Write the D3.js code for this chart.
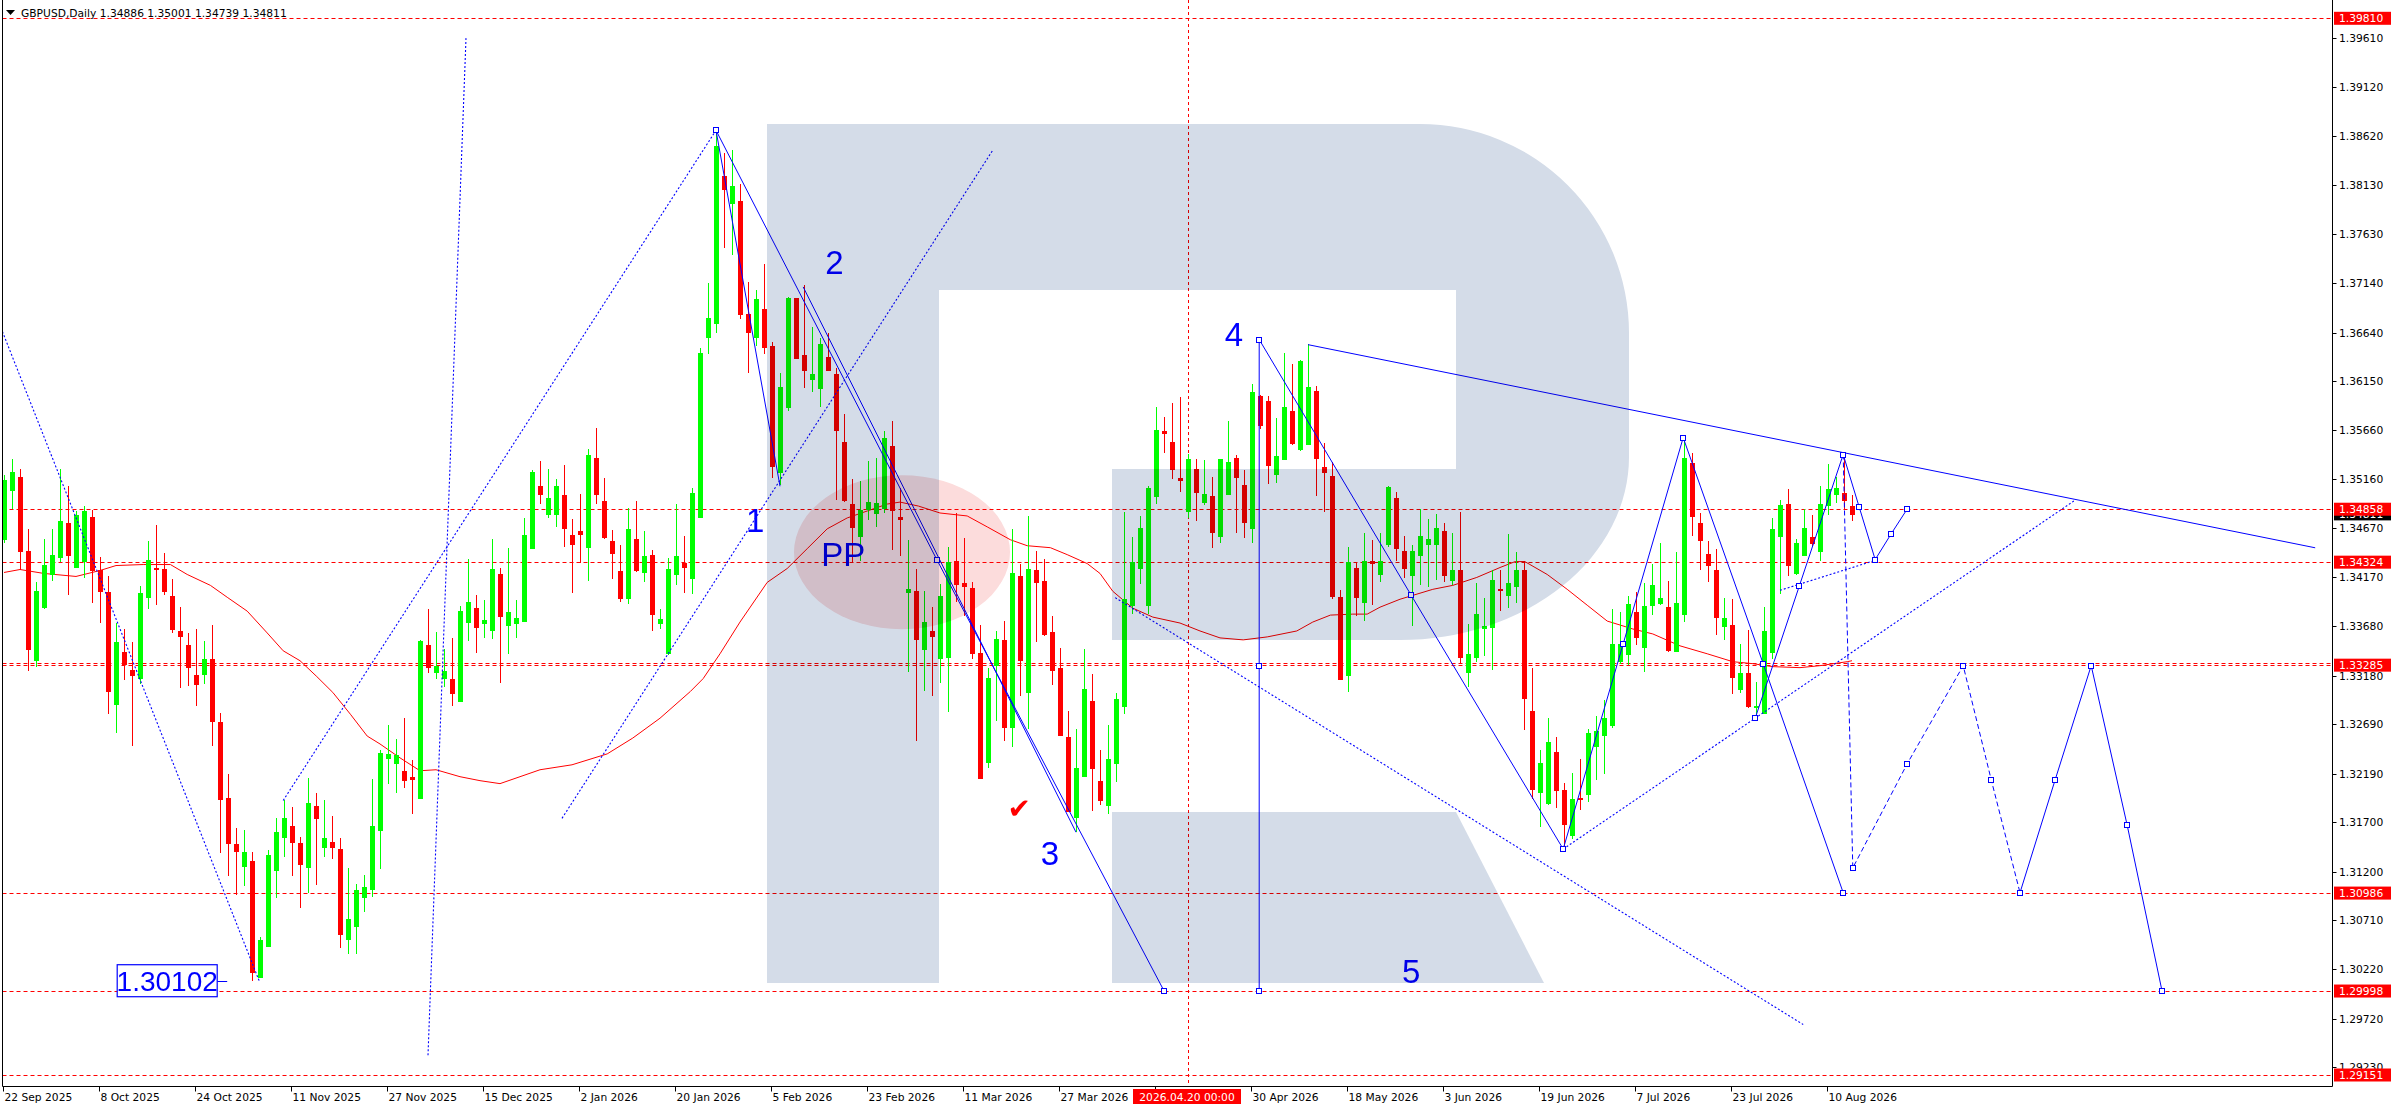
<!DOCTYPE html>
<html><head><meta charset="utf-8">
<script src="https://cdn.jsdelivr.net/npm/d3@7"></script>
<style>html,body{margin:0;padding:0;background:#fff;overflow:hidden}svg{display:block}</style>
</head><body>
<svg id="chart" width="2396" height="1110"></svg>
<script>
// ---------------- DATA ----------------
const symbolTitle = "GBPUSD,Daily  1.34886 1.35001 1.34739 1.34811";
const dateLabels = ["22 Sep 2025","8 Oct 2025","24 Oct 2025","11 Nov 2025","27 Nov 2025","15 Dec 2025","2 Jan 2026","20 Jan 2026","5 Feb 2026","23 Feb 2026","11 Mar 2026","27 Mar 2026","30 Apr 2026","18 May 2026","3 Jun 2026","19 Jun 2026","7 Jul 2026","23 Jul 2026","10 Aug 2026"];
const dateLabelBar = [0,12,24,36,48,60,72,84,96,108,120,132,156,168,180,192,204,216,228];
const hiddenTickBar = [144];
const cursorLabel = "2026.04.20 00:00";
const cursorBar = 148;
const priceTicks = [1.39610,1.39120,1.38620,1.38130,1.37630,1.37140,1.36640,1.36150,1.35660,1.35160,1.34670,1.34170,1.33680,1.33180,1.32690,1.32190,1.31700,1.31200,1.30710,1.30220,1.29720,1.29230];
const levelPrices = [1.39810,1.34858,1.34324,1.33285,1.30986,1.29998,1.29151];
const extraLevel = [1.33310];
const bidPrice = 1.34811;
const priceMin = 1.29151, priceMax = 1.39810;

const opens = [1.3456,1.3505,1.3518,1.3444,1.3334,1.3387,1.3420,1.3438,1.3472,1.3428,1.3434,1.3478,1.3424,1.3402,1.3289,1.3342,1.3324,1.3316,1.3397,1.3427,
1.3426,1.3398,1.3363,1.3349,1.3319,1.3320,1.3335,1.3271,1.3195,1.3148,1.3126,1.3131,1.3014,1.3045,1.3122,1.3155,1.3166,1.3149,1.3125,1.3186,
1.3145,1.3150,1.3143,1.3052,1.3065,1.3095,1.3103,1.3162,1.3235,1.3230,1.3222,1.3216,1.3195,1.3349,1.3322,1.3316,1.3315,1.3292,1.3372,1.3386,
1.3371,1.3364,1.3420,1.3369,1.3371,1.3373,1.3447,1.3509,1.3481,1.3481,1.3500,1.3460,1.3464,1.3448,1.3537,1.3494,1.3454,1.3423,1.3396,1.3456,
1.3422,1.3440,1.3371,1.3341,1.3420,1.3432,1.3416,1.3478,1.3660,1.3674,1.3822,1.3795,1.3797,1.3683,1.3660,1.3688,1.3650,1.3523,1.3589,1.3699,
1.3641,1.3617,1.3608,1.3639,1.3622,1.3554,1.3491,1.3459,1.3486,1.3482,1.3487,1.3550,1.3478,1.3402,1.3403,1.3345,1.3363,1.3336,1.3337,1.3434,
1.3411,1.3406,1.3341,1.3231,1.3329,1.3354,1.3266,1.3418,1.3301,1.3424,1.3413,1.3362,1.3326,1.3256,1.3175,1.3217,1.3292,1.3212,1.3187,1.3230,
1.3287,1.3389,1.3427,1.3389,1.3499,1.3565,1.3554,1.3517,1.3484,1.3526,1.3493,1.3499,1.3459,1.3501,1.3537,1.3510,1.3467,1.3600,1.3595,1.3521,
1.3536,1.3585,1.3547,1.3552,1.3605,1.3528,1.3519,1.3397,1.3319,1.3427,1.3392,1.3434,1.3420,1.3451,1.3497,1.3444,1.3419,1.3440,1.3451,1.3451,
1.3464,1.3414,1.3425,1.3322,1.3337,1.3366,1.3367,1.3405,1.3399,1.3408,1.3425,1.3282,1.3201,1.3189,1.3241,1.3203,1.3157,1.3195,1.3199,1.3247,
1.3258,1.3268,1.3333,1.3340,1.3382,1.3347,1.3389,1.3391,1.3387,1.3343,1.3380,1.3532,1.3472,1.3441,1.3424,1.3368,1.3369,1.3304,1.3321,1.3286,
1.3280,1.3342,1.3459,1.3491,1.3421,1.3440,1.3458,1.3444,1.3490,1.3501,1.3502,1.34886];
const highs = [1.3520,1.3536,1.3526,1.3466,1.3412,1.3456,1.3466,1.3526,1.3509,1.3484,1.3489,1.3485,1.3438,1.3418,1.3371,1.3365,1.3352,1.3408,1.3454,1.3470,
1.3442,1.3415,1.3387,1.3361,1.3365,1.3353,1.3369,1.3280,1.3219,1.3164,1.3162,1.3140,1.3054,1.3142,1.3174,1.3192,1.3185,1.3155,1.3215,1.3200,
1.3192,1.3176,1.3154,1.3124,1.3108,1.3117,1.3214,1.3243,1.3268,1.3254,1.3275,1.3233,1.3354,1.3385,1.3362,1.3345,1.3356,1.3388,1.3436,1.3399,
1.3394,1.3456,1.3427,1.3447,1.3394,1.3477,1.3525,1.3534,1.3526,1.3516,1.3530,1.3476,1.3501,1.3547,1.3568,1.3517,1.3465,1.3450,1.3487,1.3494,
1.3464,1.3445,1.3385,1.3437,1.3491,1.3459,1.3507,1.3648,1.3714,1.3868,1.3845,1.3848,1.3814,1.3715,1.3707,1.3733,1.3654,1.3623,1.3700,1.3699,
1.3712,1.3670,1.3659,1.3664,1.3628,1.3582,1.3516,1.3514,1.3534,1.3537,1.3565,1.3575,1.3507,1.3455,1.3426,1.3403,1.3387,1.3410,1.3448,1.3482,
1.3457,1.3412,1.3369,1.3326,1.3363,1.3373,1.3466,1.3431,1.3479,1.3444,1.3436,1.3378,1.3346,1.3282,1.3264,1.3345,1.3320,1.3243,1.3268,1.3300,
1.3483,1.3458,1.3479,1.3509,1.3589,1.3579,1.3593,1.3599,1.3542,1.3536,1.3535,1.3518,1.3536,1.3575,1.3540,1.3525,1.3612,1.3601,1.3600,1.3578,
1.3643,1.3632,1.3636,1.3652,1.3610,1.3553,1.3533,1.3404,1.3448,1.3433,1.3462,1.3455,1.3462,1.3509,1.3503,1.3459,1.3450,1.3486,1.3476,1.3481,
1.3472,1.3462,1.3483,1.3370,1.3411,1.3396,1.3424,1.3425,1.3461,1.3443,1.3434,1.3326,1.3243,1.3275,1.3256,1.3210,1.3220,1.3234,1.3264,1.3277,
1.3293,1.3385,1.3382,1.3398,1.3402,1.3411,1.3431,1.3452,1.3413,1.3443,1.3558,1.3543,1.3482,1.3454,1.3446,1.3396,1.3395,1.3350,1.3364,1.3312,
1.3387,1.3477,1.3495,1.3506,1.3456,1.3486,1.3480,1.3509,1.3531,1.3518,1.3542,1.35001];
const lows = [1.3452,1.3486,1.3425,1.3323,1.3327,1.3385,1.3413,1.3433,1.3399,1.3428,1.3416,1.3391,1.3371,1.3279,1.3260,1.3314,1.3247,1.3309,1.3385,1.3389,
1.3399,1.3361,1.3305,1.3307,1.3287,1.3310,1.3247,1.3139,1.3116,1.3097,1.3106,1.3010,1.3013,1.3045,1.3094,1.3135,1.3116,1.3084,1.3099,1.3107,
1.3135,1.3133,1.3043,1.3037,1.3037,1.3080,1.3095,1.3123,1.3209,1.3200,1.3205,1.3178,1.3194,1.3321,1.3315,1.3306,1.3287,1.3291,1.3353,1.3341,
1.3356,1.3355,1.3311,1.3340,1.3356,1.3372,1.3446,1.3491,1.3477,1.3468,1.3448,1.3401,1.3432,1.3413,1.3491,1.3456,1.3415,1.3392,1.3390,1.3422,
1.3412,1.3363,1.3365,1.3339,1.3409,1.3401,1.3400,1.3477,1.3642,1.3664,1.3749,1.3742,1.3678,1.3623,1.3650,1.3642,1.3517,1.3510,1.3585,1.3637,
1.3608,1.3604,1.3589,1.3625,1.3495,1.3493,1.3432,1.3434,1.3475,1.3468,1.3482,1.3445,1.3439,1.3322,1.3252,1.3302,1.3297,1.3311,1.3281,1.3392,
1.3378,1.3335,1.3214,1.3225,1.3272,1.3252,1.3246,1.3297,1.3264,1.3352,1.3358,1.3308,1.3257,1.3180,1.3160,1.3216,1.3181,1.3187,1.3178,1.3211,
1.3279,1.3380,1.3410,1.3380,1.3491,1.3543,1.3516,1.3503,1.3477,1.3474,1.3490,1.3447,1.3452,1.3500,1.3462,1.3457,1.3452,1.3567,1.3511,1.3512,
1.3535,1.3551,1.3545,1.3551,1.3499,1.3483,1.3395,1.3314,1.3301,1.3378,1.3373,1.3389,1.3412,1.3448,1.3434,1.3416,1.3368,1.3409,1.3407,1.3414,
1.3412,1.3409,1.3330,1.3306,1.3332,1.3338,1.3324,1.3383,1.3386,1.3391,1.3263,1.3194,1.3165,1.3187,1.3184,1.3142,1.3153,1.3182,1.3190,1.3213,
1.3219,1.3265,1.3330,1.3329,1.3349,1.3322,1.3379,1.3389,1.3342,1.3342,1.3372,1.3459,1.3425,1.3412,1.3359,1.3354,1.3299,1.3300,1.3285,1.3276,
1.3280,1.3335,1.3400,1.3418,1.3419,1.3439,1.3449,1.3434,1.3480,1.3492,1.3486,1.34739];
const closes = [1.3515,1.3523,1.3444,1.3345,1.3403,1.3430,1.3440,1.3474,1.3440,1.3480,1.3484,1.3424,1.3403,1.3302,1.3352,1.3330,1.3319,1.3401,1.3435,1.3426,
1.3403,1.3365,1.3358,1.3327,1.3309,1.3335,1.3272,1.3194,1.3149,1.3141,1.3140,1.3019,1.3051,1.3137,1.3160,1.3174,1.3150,1.3128,1.3189,1.3174,
1.3154,1.3145,1.3057,1.3072,1.3102,1.3105,1.3166,1.3240,1.3239,1.3238,1.3213,1.3214,1.3353,1.3327,1.3328,1.3323,1.3300,1.3383,1.3392,1.3367,
1.3374,1.3426,1.3378,1.3382,1.3376,1.3460,1.3523,1.3501,1.3497,1.3509,1.3467,1.3451,1.3461,1.3541,1.3501,1.3458,1.3442,1.3396,1.3466,1.3425,
1.3439,1.3380,1.3375,1.3426,1.3439,1.3428,1.3502,1.3643,1.3679,1.3852,1.3809,1.3812,1.3683,1.3665,1.3698,1.3649,1.3529,1.3609,1.3699,1.3638,
1.3626,1.3622,1.3652,1.3626,1.3566,1.3495,1.3468,1.3485,1.3493,1.3492,1.3558,1.3485,1.3476,1.3405,1.3355,1.3372,1.3358,1.3398,1.3433,1.3410,
1.3408,1.3341,1.3215,1.3316,1.3355,1.3266,1.3421,1.3334,1.3426,1.3412,1.3360,1.3324,1.3258,1.3181,1.3225,1.3304,1.3225,1.3192,1.3234,1.3294,
1.3395,1.3433,1.3467,1.3507,1.3566,1.3563,1.3526,1.3515,1.3536,1.3503,1.3501,1.3463,1.3536,1.3533,1.3518,1.3473,1.3604,1.3571,1.3530,1.3539,
1.3589,1.3553,1.3635,1.3609,1.3537,1.3523,1.3398,1.3315,1.3433,1.3397,1.3434,1.3432,1.3434,1.3508,1.3447,1.3427,1.3444,1.3459,1.3456,1.3467,
1.3419,1.3424,1.3337,1.3340,1.3380,1.3368,1.3414,1.3404,1.3411,1.3425,1.3295,1.3204,1.3230,1.3251,1.3203,1.3168,1.3194,1.3193,1.3260,1.3262,
1.3275,1.3350,1.3350,1.3390,1.3357,1.3388,1.3409,1.3396,1.3344,1.3391,1.3537,1.3479,1.3455,1.3430,1.3377,1.3376,1.3317,1.3321,1.3287,1.3287,
1.3363,1.3466,1.3490,1.3430,1.3452,1.3467,1.3452,1.3491,1.3506,1.3507,1.3495,1.34811];

// moving average, read at bar positions
const maBar = [0,2,5,9,12,14,17.4,20.8,22.9,25.8,27.9,30.4,32.9,34.9,37,39.1,41.1,43.3,45.4,47,49.5,52,54,57,59.5,62,67,71,75.4,78.6,82,85.8,87.4,89.5,92,95.4,97.9,100.4,102.9,105.4,107.9,110.4,112,114.3,117,120.4,122.9,125.8,127.9,130.8,132.9,135.4,137,138.6,141.1,143.6,147,149.5,152,154.9,157.9,161.6,163.6,165.8,168.6,170.4,172,174.5,178.6,181.1,184.1,187,188.9,190.1,192.9,195.4,197.9,200.4,203.6,206.1,209.5,212.9,216.1,218.6,221.1,224.5,227,230.4,231];
const maVal = [1.3422,1.3425,1.3421,1.3418,1.3424,1.3429,1.3430,1.3430,1.3420,1.3409,1.3397,1.3383,1.3361,1.3343,1.3333,1.3317,1.3301,1.3279,1.3257,1.3249,1.3235,1.3222,1.3223,1.3216,1.3212,1.3209,1.3223,1.3228,1.3239,1.3255,1.3275,1.3302,1.3315,1.3340,1.3372,1.3412,1.3426,1.3446,1.3466,1.3477,1.3484,1.3491,1.3493,1.3489,1.3482,1.3479,1.3468,1.3455,1.3449,1.3447,1.3440,1.3431,1.3421,1.3403,1.3386,1.3377,1.3371,1.3363,1.3356,1.3354,1.3357,1.3363,1.3372,1.3379,1.3380,1.3380,1.3387,1.3395,1.3405,1.3409,1.3417,1.3427,1.3433,1.3433,1.3420,1.3405,1.3389,1.3373,1.3365,1.3360,1.3348,1.3340,1.3332,1.3330,1.3327,1.3326,1.3328,1.3332,1.3333];

// wave analysis objects (bar position, price)
const solidPaths = [
  [[89,1.3868],[97,1.3509]],
  [[89,1.3868],[116.6,1.3435],[145,1.3000]],
  [[99.9,1.3710],[134,1.3160]],
  [[156.9,1.3657],[175.9,1.3399],[194.9,1.3143]],
  [[156.9,1.3657],[156.9,1.3000]],
  [[163,1.36518],[288.9,1.34469]],
  [[194.9,1.3143],[202.4,1.3350],[209.9,1.3558]],
  [[209.9,1.3558],[219.9,1.3330],[229.9,1.3099]],
  [[218.9,1.3275],[224.4,1.3408],[229.9,1.3541]],
  [[229.9,1.3541],[231.9,1.3488],[233.9,1.3435],[235.9,1.3461],[237.9,1.3486]],
  [[252,1.3099],[256.4,1.3213],[260.9,1.3328],[265.4,1.3167],[269.75,1.3000]]
];
const dottedPaths = [
  [[-0.2,1.3665],[31.9,1.3010]],
  [[53,1.2935],[57.75,1.3961]],
  [[34.9,1.3192],[89,1.3868]],
  [[69.75,1.3174],[123.6,1.3848]],
  [[138.9,1.33966],[224.9,1.2966]],
  [[194.9,1.3143],[258.9,1.3495]],
  [[222,1.3404],[234,1.34345]]
];
const dashedPaths = [
  [[229.9,1.3541],[231.1,1.3124],[237.9,1.3229],[244.9,1.3328],[248.4,1.3213],[252,1.3099]]
];
const markerPts = [[89,1.3868],[116.6,1.3435],[145,1.3000],[156.9,1.3657],[156.9,1.3328],[156.9,1.3000],[175.9,1.3399],[194.9,1.3143],[202.4,1.3350],[209.9,1.3558],[219.9,1.3330],[229.9,1.3099],[218.9,1.3275],[224.4,1.3408],[229.9,1.3541],[231.9,1.3488],[233.9,1.3435],[235.9,1.3461],[237.9,1.3486],[231.1,1.3124],[237.9,1.3229],[244.9,1.3328],[248.4,1.3213],[252,1.3099],[256.4,1.3213],[260.9,1.3328],[265.4,1.3167],[269.75,1.3000]];
const waveText = ["1","2","3","4","5","PP"];
const waveTextBar = [93.9,103.8,130.75,153.75,175.9,104.9];
const waveTextPrice = [1.34748,1.3735,1.3139,1.36625,1.3019,1.3440];
const checkBar = 126.9, checkPrice = 1.3184;
const lowLabel = "1.30102", lowLabelBar = 20.4, lowLabelPrice = 1.30102;
const zoneCenterBar = 112.25, zoneCenterPrice = 1.34425;

// ---------------- SCALES ----------------
const svg = d3.select("#chart");
const plot = {l:2.5, r:2332.5, t:0, b:1086.5};
const x = d3.scaleLinear().domain([0, 291]).range([4, 4 + 8*291]);
const y = d3.scaleLinear().domain([priceMin, priceMax]).range([1075, 18.3]);
const fmt = d3.format(".5f");
const FONT = "'DejaVu Sans', Verdana, sans-serif";

svg.append("rect").attr("width",2396).attr("height",1110).attr("fill","#fff");
svg.append("defs").append("clipPath").attr("id","clip")
  .append("rect").attr("x",plot.l+0.5).attr("y",0).attr("width",plot.r-plot.l-1).attr("height",plot.b);

const g = svg.append("g").attr("clip-path","url(#clip)");

// horizontal levels
g.selectAll("line.lvl").data(levelPrices.concat(extraLevel)).enter().append("line")
  .attr("x1",plot.l).attr("x2",plot.r)
  .attr("y1",d=>Math.round(y(d))+0.5).attr("y2",d=>Math.round(y(d))+0.5)
  .attr("stroke","#ff0000").attr("stroke-width",1).attr("stroke-dasharray","4,3");

// cursor line
g.append("line").attr("x1",Math.round(x(cursorBar))+0.5).attr("x2",Math.round(x(cursorBar))+0.5)
  .attr("y1",0).attr("y2",plot.b).attr("stroke","#ff0000").attr("stroke-dasharray","3,3");

// moving average
const maPts = maBar.map((b,i)=>[b,maVal[i]]);
g.append("path").datum(maPts)
  .attr("d", d3.line().x(d=>x(d[0])).y(d=>y(d[1])))
  .attr("fill","none").attr("stroke","#ff0000").attr("stroke-width",1);

// candles
const candles = opens.map((o,i)=>({i,o,h:highs[i],l:lows[i],c:closes[i]}));
const cg = g.append("g").attr("shape-rendering","crispEdges");
candles.forEach(d=>{
  const cx = Math.round(x(d.i));
  const col = d.c >= d.o ? "#00ff00" : "#ff0000";
  cg.append("rect").attr("x",cx).attr("width",1)
    .attr("y",Math.round(y(d.h))).attr("height",Math.max(1,Math.round(y(d.l))-Math.round(y(d.h))))
    .attr("fill",col);
  const t = Math.round(y(Math.max(d.o,d.c))), b = Math.round(y(Math.min(d.o,d.c)));
  cg.append("rect").attr("x",cx-2).attr("width",5)
    .attr("y",t).attr("height",Math.max(1,b-t+1)).attr("fill",col);
});

// wave lines
const ln = d3.line().x(d=>x(d[0])).y(d=>y(d[1]));
g.selectAll("path.dot").data(dottedPaths).enter().append("path")
  .attr("d",ln).attr("fill","none").attr("stroke","#0000ff").attr("stroke-width",1.1).attr("stroke-dasharray","2,2");
g.selectAll("path.dsh").data(dashedPaths).enter().append("path")
  .attr("d",ln).attr("fill","none").attr("stroke","#0000ff").attr("stroke-width",1).attr("stroke-dasharray","5,3");
g.selectAll("path.sol").data(solidPaths).enter().append("path")
  .attr("d",ln).attr("fill","none").attr("stroke","#0000ff").attr("stroke-width",1);
g.selectAll("rect.mk").data(markerPts).enter().append("rect")
  .attr("x",d=>Math.round(x(d[0]))-2.5).attr("y",d=>Math.round(y(d[1]))-2.5)
  .attr("width",5).attr("height",5).attr("fill","#fff").attr("stroke","#0000ff").attr("stroke-width",1);

// wave labels
waveText.forEach((t,i)=>{
  g.append("text").attr("x",x(waveTextBar[i])).attr("y",y(waveTextPrice[i]))
    .attr("text-anchor","middle").attr("dominant-baseline","central")
    .attr("font-family","'Liberation Sans', Arial, sans-serif").attr("font-size",33)
    .attr("fill","#0000ff").text(t);
});
g.append("text").attr("x",x(checkBar)).attr("y",y(checkPrice))
  .attr("text-anchor","middle").attr("dominant-baseline","central")
  .attr("font-family","'DejaVu Sans', sans-serif").attr("font-size",28).attr("fill","#ff0000").text("\u2714");

// low price label
const lx = x(lowLabelBar), ly = y(lowLabelPrice);
g.append("line").attr("x1",lx+50).attr("x2",lx+60).attr("y1",Math.round(ly)+0.5).attr("y2",Math.round(ly)+0.5).attr("stroke","#0000ff");
g.append("rect").attr("x",lx-50).attr("y",ly-16).attr("width",100).attr("height",32)
  .attr("fill","#fff").attr("stroke","#0000ff").attr("stroke-width",1.2);
g.append("text").attr("x",lx).attr("y",ly+1).attr("text-anchor","middle").attr("dominant-baseline","central")
  .attr("font-family","'Liberation Sans', Arial, sans-serif").attr("font-size",28).attr("fill","#0000ff").text(lowLabel);

// watermark logo (multiply)
const logo = g.append("g").style("mix-blend-mode","multiply");
logo.append("path").attr("fill-rule","evenodd").attr("fill","#d4dce8")
  .attr("d","M767,124 H1420 A209,209 0 0 1 1629,333 V456 A229,183 0 0 1 1400,640 H1112 V469 H939 V983 H767 Z M939,290 H1456 V469 H939 Z");
logo.append("path").attr("fill","#d4dce8").attr("d","M1112,812 H1456 L1544,983 H1112 Z");
// highlight zone
g.append("ellipse").style("mix-blend-mode","multiply")
  .attr("cx",x(zoneCenterBar)).attr("cy",y(zoneCenterPrice)).attr("rx",108).attr("ry",77)
  .attr("fill","#fcdcdc");

// frame
svg.append("path").attr("d",`M${plot.l},0 V${plot.b} H${plot.r} V0`).attr("fill","none").attr("stroke","#000").attr("stroke-width",1);

// header
svg.append("path").attr("d","M6,10 L15,10 L10.5,15 Z").attr("fill","#000");
svg.append("text").attr("x",21).attr("y",17).attr("font-family",FONT).attr("font-size",10.7).attr("fill","#000").text(symbolTitle);

// right axis
const ax = svg.append("g").attr("font-family",FONT).attr("font-size",10.7);
priceTicks.forEach(p=>{
  const yy = Math.round(y(p))+0.5;
  ax.append("line").attr("x1",plot.r).attr("x2",plot.r+4).attr("y1",yy).attr("y2",yy).attr("stroke","#000");
  ax.append("text").attr("x",2339).attr("y",yy).attr("dy","0.36em").attr("fill","#000").text(fmt(p));
});
// bid (behind)
{
  const yy = y(bidPrice);
  ax.append("rect").attr("x",2334).attr("y",yy-6.5).attr("width",57).attr("height",13).attr("fill","#000");
  ax.append("text").attr("x",2339).attr("y",yy).attr("dy","0.36em").attr("fill","#fff").text(fmt(bidPrice));
}
levelPrices.forEach(p=>{
  const yy = y(p);
  ax.append("rect").attr("x",2334).attr("y",yy-6.5).attr("width",57).attr("height",13).attr("fill","#ff0000");
  ax.append("text").attr("x",2339).attr("y",yy).attr("dy","0.36em").attr("fill","#fff").text(fmt(p));
});

// bottom axis
dateLabelBar.concat(hiddenTickBar).forEach(b=>{
  const xx = Math.round(x(b))-0.5;
  ax.append("line").attr("x1",xx).attr("x2",xx).attr("y1",plot.b).attr("y2",plot.b+5).attr("stroke","#000");
});
dateLabels.forEach((t,k)=>{
  const xx = Math.round(x(dateLabelBar[k]))-0.5;
  ax.append("text").attr("x",xx+1).attr("y",1101).attr("fill","#000").text(t);
});
{
  const xx = x(cursorBar);
  ax.append("rect").attr("x",xx-55).attr("y",1089).attr("width",108).attr("height",15).attr("fill","#ff0000");
  ax.append("text").attr("x",xx-1).attr("y",1101).attr("text-anchor","middle").attr("fill","#fff").text(cursorLabel);
}
</script>
</body></html>
